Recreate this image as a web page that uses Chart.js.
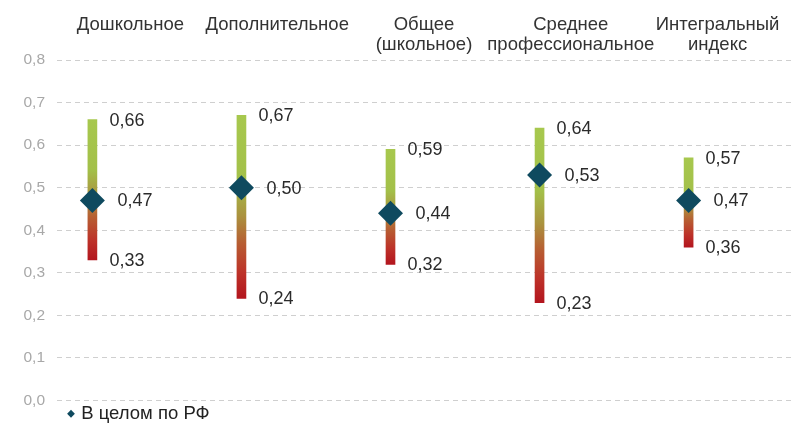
<!DOCTYPE html>
<html><head><meta charset="utf-8">
<script src="https://cdn.jsdelivr.net/npm/chart.js@4/dist/chart.umd.min.js"></script>
<style>html,body{margin:0;padding:0;background:#fff}#wrap{width:791px;height:423px;position:relative}</style>
</head><body><div id="wrap"><canvas id="c"></canvas></div>
<script>
const categories = [['Дошкольное'], ['Дополнительное'], ['Общее', '(школьное)'], ['Среднее', 'профессиональное'], ['Интегральный', 'индекс']];
const minValues = [0.33, 0.24, 0.32, 0.23, 0.36];
const meanValues = [0.47, 0.50, 0.44, 0.53, 0.47];
const maxValues = [0.66, 0.67, 0.59, 0.64, 0.57];
const yTickValues = [0, 0.1, 0.2, 0.3, 0.4, 0.5, 0.6, 0.7, 0.8];
const legendLabel = 'В целом по РФ';

const FONT = '"Liberation Sans", Arial, sans-serif';
const fmt = (v, d) => v.toFixed(d).replace('.', ',');

function barGradient(c) {
  const chart = c.chart;
  const y = chart.scales && chart.scales.y;
  if (!chart.chartArea || c.dataIndex == null || !y) return '#a6c64c';
  const top = y.getPixelForValue(maxValues[c.dataIndex]);
  const bot = y.getPixelForValue(minValues[c.dataIndex]);
  const g = chart.ctx.createLinearGradient(0, top, 0, bot);
  g.addColorStop(0, '#a7c84e');
  g.addColorStop(0.36, '#a3c049');
  g.addColorStop(0.55, '#ab923e');
  g.addColorStop(0.7, '#b75d32');
  g.addColorStop(0.86, '#bd3229');
  g.addColorStop(1, '#b3151e');
  return g;
}

const valueLabels = {
  id: 'valueLabels',
  afterDatasetsDraw(chart) {
    const ctx = chart.ctx;
    const bars = chart.getDatasetMeta(1).data;
    const pts = chart.getDatasetMeta(0).data;
    ctx.save();
    ctx.font = '18px ' + FONT;
    ctx.fillStyle = '#2b2b2b';
    ctx.textBaseline = 'middle';
    ctx.textAlign = 'left';
    bars.forEach((bar, i) => {
      ctx.fillText(fmt(maxValues[i], 2), bar.x + 17, bar.y + 1);
      ctx.fillText(fmt(minValues[i], 2), bar.x + 17, bar.base + 1);
    });
    pts.forEach((p, i) => {
      ctx.fillText(fmt(meanValues[i], 2), p.x + 25, p.y + 1);
    });
    ctx.restore();
  }
};

const legendShift = {
  id: 'legendShift',
  afterLayout(chart) {
    if (chart.legend) { chart.legend.left += 9; chart.legend.right += 9; }
  }
};

new Chart(document.getElementById('c'), {
  type: 'bar',
  data: {
    datasets: [
      {
        type: 'line',
        label: legendLabel,
        data: meanValues.map((v, i) => ({ x: i, y: v })),
        showLine: false,
        pointStyle: 'rectRot',
        pointRadius: 12.5,
        pointHoverRadius: 12.5,
        backgroundColor: '#0f4a5f',
        borderColor: '#0f4a5f',
        borderWidth: 0,
        clip: false,
        order: 0
      },
      {
        type: 'bar',
        label: '',
        data: minValues.map((v, i) => ({ x: i, y: [v, maxValues[i]] })),
        backgroundColor: barGradient,
        borderWidth: 0,
        barThickness: 9,
        order: 1
      }
    ]
  },
  options: {
    responsive: true,
    maintainAspectRatio: false,
    animation: false,
    layout: { autoPadding: false, padding: { top: 10, left: 20, right: 0, bottom: -10 } },
    plugins: {
      tooltip: { enabled: false },
      legend: {
        position: 'bottom',
        align: 'start',
        fullSize: false,
        labels: {
          usePointStyle: true,
          pointStyle: 'rectRot',
          boxWidth: 2,
          boxHeight: 5.5,
          padding: 4,
          color: '#222',
          font: { family: FONT, size: 18.5 },
          filter: (item) => !!item.text
        }
      }
    },
    scales: {
      x: {
        type: 'linear',
        min: -0.2375,
        max: 4.687,
        offset: false,
        display: false
      },
      xTop: {
        type: 'category',
        position: 'top',
        labels: categories,
        offset: true,
        grid: { display: false, drawTicks: false },
        border: { display: false },
        afterFit: (s) => { s.height = 50; s.paddingLeft = 0; s.paddingRight = 0; },
        ticks: {
          color: '#333',
          font: { family: FONT, size: 18.5, lineHeight: 1.08 },
          crossAlign: 'far',
          maxRotation: 0,
          autoSkip: false,
          padding: 5
        }
      },
      y: {
        min: 0,
        max: 0.8,
        afterBuildTicks: (s) => { s.ticks = yTickValues.map(v => ({ value: v })); },
        afterFit: (s) => { s.width = 37; },
        grid: { color: '#cfcfcf', lineWidth: 1, drawTicks: false },
        border: { display: false, dash: [5, 4] },
        ticks: {
          color: '#a8a8a8',
          padding: 12,
          font: { family: FONT, size: 15.5 },
          callback: (v) => fmt(v, 1)
        }
      }
    }
  },
  plugins: [valueLabels, legendShift]
});
</script></body></html>
